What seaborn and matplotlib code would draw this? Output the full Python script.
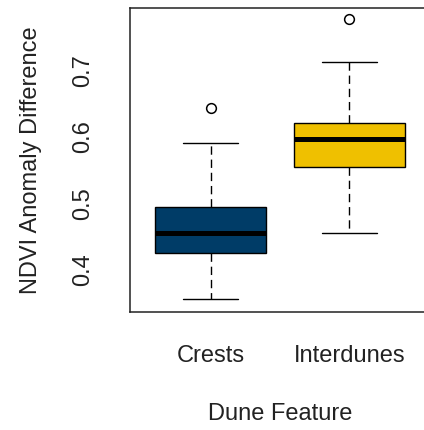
import matplotlib
matplotlib.use("Agg")
import matplotlib.pyplot as plt
import seaborn as sns
import pandas as pd

# Observations per dune feature, read off the boxes
# (whisker ends, quartiles, median and the single outlier of each group)
crests = [0.356, 0.395, 0.425, 0.440, 0.456, 0.475, 0.494, 0.591, 0.6425]
interdunes = [0.456, 0.510, 0.555, 0.580, 0.596, 0.610, 0.621, 0.712, 0.777]
features = ["Crests", "Interdunes"]
colors = ["#003C67", "#EFC000"]
y_ticks = [0.4, 0.5, 0.6, 0.7]

df = pd.DataFrame({
    "feature": [features[0]] * len(crests) + [features[1]] * len(interdunes),
    "ndvi": crests + interdunes,
})

sns.set_style("white")
plt.rcParams["font.family"] = ["Liberation Sans", "DejaVu Sans"]

fig = plt.figure(figsize=(4.24, 4.30), dpi=100)
# axes run a little past the right edge, like the cropped R plot
ax = fig.add_axes([130 / 424, (430 - 311.7) / 430, 300 / 424, 303.4 / 430])

sns.boxplot(
    data=df, x="feature", y="ndvi", hue="feature", order=features,
    palette=colors, saturation=1, width=0.8, whis=1.6,
    linecolor="black", linewidth=1.0,
    medianprops=dict(linewidth=3.6, color="black"),
    whiskerprops=dict(linestyle=(0, (6, 3.5)), linewidth=1.0),
    capprops=dict(linewidth=1.0),
    flierprops=dict(marker="o", markerfacecolor="none", markeredgecolor="black",
                    markersize=7, markeredgewidth=1.1),
    legend=False, ax=ax,
)

ax.set_xlim(-0.58, 1.58)
ax.set_ylim(0.337, 0.793)
ax.set_yticks(y_ticks)
ax.set_yticklabels([f"{v:.1f}" for v in y_ticks], rotation=90, va="center")

for side in ["left", "bottom", "top", "right"]:
    ax.spines[side].set_visible(True)
    ax.spines[side].set_color("#222222")
    ax.spines[side].set_linewidth(1.1)

ax.tick_params(axis="both", direction="out", length=11, width=1.0,
               color="#222222", labelsize=17, labelcolor="#222222")
ax.tick_params(axis="x", pad=13)
ax.tick_params(axis="y", pad=15)

ax.set_xlabel("Dune Feature", fontsize=17, color="#222222")
ax.set_ylabel("NDVI Anomaly Difference", fontsize=17, color="#222222")
ax.xaxis.set_label_coords(0.5, -0.30)
ax.yaxis.set_label_coords(-0.293, 0.5)

fig.savefig("out.png", dpi=100)
